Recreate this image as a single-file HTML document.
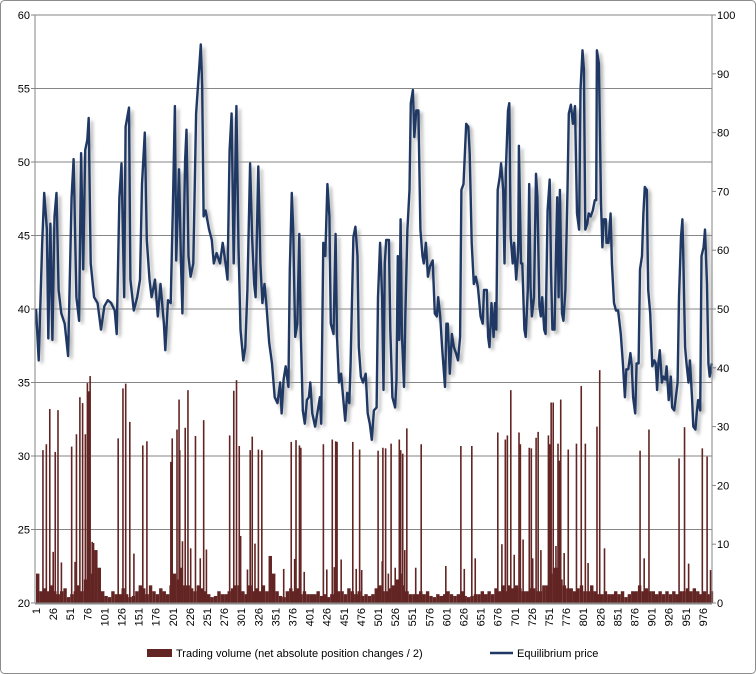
<!DOCTYPE html>
<html><head><meta charset="utf-8"><style>
body{margin:0;background:#fff;font-family:"Liberation Sans",sans-serif;}
#wrap{position:relative;width:756px;height:674px;overflow:hidden;}
svg text{font-family:"Liberation Sans",sans-serif;font-size:11px;fill:#000;}
</style></head><body>
<div id="wrap">
<svg id="chart" width="756" height="674">
<defs><filter id="sh" x="-5%" y="-5%" width="110%" height="110%"><feGaussianBlur stdDeviation="1.5"/></filter></defs>
<rect x="0.5" y="0.5" width="755" height="673" rx="4" fill="#fff" stroke="#8c8c8c"/>
<g id="grid"></g><g id="vol"></g><g id="price"></g><g id="axes"></g>
<g>
<rect x="147" y="649" width="25" height="8" fill="#632523"/>
<text x="176" y="657">Trading volume (net absolute position changes / 2)</text>
<line x1="490" y1="653" x2="513" y2="653" stroke="#1f3864" stroke-width="2.5"/>
<text x="517" y="657">Equilibrium price</text>
</g>
</svg></div>
<script>
const priceIdx=[1,5,10,13,17,19,22,25,28,31,34,38,43,48,53,56,60,64,67,70,73,76,78,81,86,91,96,101,106,111,116,119,123,126,130,132,137,139,144,149,153,156,160,163,167,170,175,179,183,188,190,194,198,201,204,206,210,213,215,219,221,224,227,231,235,238,242,244,246,249,254,258,261,265,270,274,278,281,284,287,290,294,297,300,304,307,310,314,317,320,322,326,329,332,335,338,342,346,350,354,358,360,363,366,370,372,375,377,380,383,386,388,391,394,397,400,402,405,409,413,416,418,421,424,427,430,432,436,439,441,444,447,450,453,456,459,461,465,468,471,473,476,479,483,486,489,492,495,499,501,504,507,509,511,513,517,519,522,526,528,530,532,534,536,539,541,544,547,549,552,554,557,560,563,566,568,571,574,577,581,584,587,589,592,595,599,601,603,606,609,612,615,618,621,623,626,630,633,635,638,641,644,647,651,654,656,660,662,664,667,670,672,674,676,679,681,684,686,688,691,693,695,698,700,703,706,707,710,712,715,717,720,722,724,726,729,732,734,737,739,741,744,746,749,752,754,756,759,761,763,765,767,770,772,775,778,780,783,786,789,792,795,797,800,802,804,807,809,812,815,818,820,821,824,827,829,831,834,835,838,841,843,846,849,852,856,859,862,864,867,870,872,874,877,879,882,884,887,889,891,894,896,899,902,905,907,909,911,913,916,918,921,923,926,929,931,934,936,939,941,944,946,947,950,952,955,957,960,962,965,967,969,972,974,977,979,982,984,986,989];
const priceVal=[40,36.5,44.5,47.9,45.4,38,45.8,37.9,46.3,47.9,41.3,39.7,39,36.8,47.6,50.2,40.8,39.2,50.6,42.7,50.8,51.5,53,43.1,40.8,40.4,38.6,40.2,40.6,40.4,39.9,38.3,47.6,49.9,40.8,52.4,53.7,42,39.9,40.8,42,48.5,52,44.7,42,40.8,42,39.5,41.7,39,37.2,40.6,40.4,46.7,53.8,43.3,49.5,43.1,39.7,50.1,52.2,43.6,42.2,43.1,53.3,55.3,58,55.1,46.3,46.7,45.4,44.7,43.1,43.8,43.1,44.5,43.1,42,50.8,53.3,43.1,53.8,44.2,38.6,36.5,37.4,41.3,49.9,44.9,41.7,40.8,49.7,43.1,40.4,41.7,40.2,37.7,36.3,34,33.6,35,32.9,35.2,36.1,34.7,42.7,47.9,45.4,38.1,39,45.1,38.6,33.1,32.2,33.8,34,35,32.9,32,33.1,34,32.2,44.5,43.6,48.5,46.3,39,38.3,45.1,38.1,35,35.6,34,32.4,34.3,33.6,36.3,44.9,45.6,43.6,37.4,35.4,35,35.6,32.9,32.2,31.1,33.1,33.3,40.8,44.5,40.8,34.5,43.1,44.7,44.7,38.6,34,33.3,35.2,43.6,37.9,46.1,38.3,34.7,39.7,45.4,48.1,54,54.9,51.7,53.5,53.5,45.4,43.6,43.1,44.5,42.2,42.9,43.3,39.7,39.5,40.8,39.5,37.2,34.7,39,39,35.6,38.3,37.4,37,36.5,38.1,48.1,48.5,52.6,52.4,50.6,44.5,41.7,42.2,41.5,39.5,39,41.3,41.3,38.1,37.4,40.4,38.1,40.4,38.6,48.1,49,49.9,48.1,43.1,49.5,53.5,54,44.9,43.1,44.5,42,44,51.1,43.1,43.1,38.6,38.1,41.3,48.5,41.5,39.5,40.8,49.2,47.6,40.2,39.5,40.8,38.6,38.3,46.7,48.8,42.4,38.6,38.6,43.1,47.6,40.8,48.1,39.7,39.2,41.3,48.1,53.3,53.9,52.6,53.8,46.5,45.4,54.9,57.6,56.3,45.4,45.8,46.5,46.3,46.7,47.4,47.4,57.6,56.7,47.2,44.2,46.1,46.1,44.5,44.5,46.5,43.1,40.4,39.9,39.9,38.3,36.3,34,35.9,35.9,37,36.1,34,32.9,36.3,36.3,42.7,43.6,46.5,48.3,48.1,41.3,39.7,36.1,36.5,36.3,34.5,36.3,37.2,35,35.4,35.2,36.1,33.8,35.4,33.3,33.1,33.8,35,40.8,44.9,46.1,44.2,37.4,36.3,35,36.5,34,32,31.8,32.9,33.8,33.1,43.6,44.2,45.4,41.7,36.3,35.4,36.3];
const spikeIdx=[11,16,21,26,29,33,38,53,58,60,65,69,73,76,78,80,83,85,121,128,132,138,144,157,163,198,200,207,210,211,215,219,223,227,234,241,246,250,284,290,294,298,300,310,314,317,321,326,331,363,374,379,381,386,388,393,421,426,434,437,439,441,447,464,469,474,477,501,507,508,512,516,520,526,532,534,537,540,543,556,564,600,622,627,638,643,676,682,687,690,695,700,707,709,713,722,725,727,732,735,739,750,752,754,757,761,764,766,768,773,779,791,798,804,808,821,825,832,884,890,897,941,949,955,975,982,987];
const spikeVal=[26,27,33,8.7,25.7,32.8,6.9,26.6,7,28.7,35,34,28.7,37.4,36,38.6,10.4,10.2,28,36.5,37.3,30.8,8.4,26.8,27.5,24,28,29.5,34.6,26,10.5,29.8,36.2,9.3,28.4,7.6,31.1,9.1,28.5,36.1,37.9,26.7,11.4,5.7,26,28.3,10.1,26.1,26,5.8,27.4,7.5,27.7,26.8,26.4,5.3,27,5.7,27.8,6.1,27.5,27.4,7.4,27.4,5.8,26.1,5.6,25.9,7.1,26.4,26.3,5,27.1,6,27.8,26,25.4,9,29.7,6,27,6.3,26.7,5.8,26.7,7.6,29,10,27.8,28.5,36.2,8.2,29,27,10.8,26.4,26.3,7.6,28.1,29.1,9,28.5,27,34.1,34.1,9.7,27.1,24.2,34.6,8.5,26.1,27.1,36.9,27.1,6.8,30,39.6,9.3,25.9,7.6,29.5,24.6,29.9,6.7,26.3,24.9,5.6];
const baseVal=[5,2,2.5,2,3,2,1.5,2,2.5,1, 1.5,2,3,2,4,3,5,9,6,2, 1.2,1,2,1.5,1.5,2.5,1.5,1,1.2,2, 3,2.5,1.5,3,2,1.5,2.5,2,1.5,3, 5,4,6,3,3,2.5,2,3,2.5,2, 1.5,1,1.2,2,1.5,1.5,2,2.5,3,3, 2,1.5,3,2,2.5,2,3,2,8,5, 2,1.2,1,2,2.5,2,2.5,1.5,2,1.5, 1.5,1.5,2,1.2,1.5,1,1.5,1.5,2,2, 1.5,2.5,2,1.5,2,1.2,1.5,1.2,1.5,2.5, 3,2,2,2.5,3,4,5,3,2,1.5, 1.5,1.5,2,1.5,2,1.2,1,1.5,1.2,1.5, 2,1.5,1.2,1.5,2,1.2,1,1.2,1.5,1.5, 2,1.5,2,1.5,2.5,2,3,2,3,2.5, 3,2.5,2,2,2.5,2.5,2,2,3,3, 5,6,6,4,3,2.5,2.5,2,2.5,3, 2,2,3,2,1.5,1.5,2,1.5,1.5,2, 1.5,2,1,1.5,2,2,3,2,2.5,2, 2,1.5,2,1.5,2,1.5,2,1.5,2,2, 2.5,2,2.5,2,1.5,2,1.5,2];
const leftTicks=[20,25,30,35,40,45,50,55,60];
const rightTicks=[0,10,20,30,40,50,60,70,80,90,100];
const xTicks=[];for(let i=1;i<=976;i+=25)xTicks.push(i);

const NS='http://www.w3.org/2000/svg';
const X0=36,DX=0.684,TOP=15,BOT=603;
const xS=i=>X0+(i-1)*DX;
const yL=v=>TOP+(60-v)*(BOT-TOP)/40;
const yR=v=>BOT-v*(BOT-TOP)/100;
function mk(tag,attrs,parent){const e=document.createElementNS(NS,tag);for(const k in attrs)e.setAttribute(k,attrs[k]);parent.appendChild(e);return e;}
const grid=document.getElementById('grid'),vol=document.getElementById('vol'),price=document.getElementById('price'),axes=document.getElementById('axes');
leftTicks.forEach(v=>{
 const l=mk('line',{x1:35,x2:712,y1:yL(v),y2:yL(v),stroke:'#868686','stroke-width':1},grid);
 
 
 const t=mk('text',{x:30,y:yL(v)+4,'text-anchor':'end'},axes);t.textContent=v;
 
 
 const tk=mk('line',{x1:31,x2:35,y1:yL(v),y2:yL(v),stroke:'#868686'},axes);
 
 
});
rightTicks.forEach(v=>{
 const t=mk('text',{x:717,y:yR(v)+4,'text-anchor':'start'},axes);t.textContent=v;
 
 
 const tk=mk('line',{x1:712,x2:716,y1:yR(v),y2:yR(v),stroke:'#868686'},axes);
 
 
});
const la=mk('line',{x1:35,x2:35,y1:TOP,y2:BOT,stroke:'#868686'},axes);


const ra=mk('line',{x1:712,x2:712,y1:TOP,y2:BOT,stroke:'#868686'},axes);


const ba=mk('line',{x1:35,x2:712,y1:BOT+0.5,y2:BOT+0.5,stroke:'#868686','stroke-width':2},axes);


xTicks.forEach(i=>{
 const x=xS(i);
 const t=mk('text',{x:0,y:0,transform:`translate(${x+4},608) rotate(-90)`,'text-anchor':'end'},axes);t.textContent=i;
 
 
});
baseVal.forEach((v,k)=>{
 const i=1+k*5;
 const r=mk('rect',{x:xS(i),y:yR(v),width:5*DX,height:BOT-yR(v),fill:'#632523'},vol);
 
 
});
spikeIdx.forEach((i,k)=>{
 const v=spikeVal[k];
 const r=mk('rect',{x:xS(i)-0.7,y:yR(v),width:1.6,height:BOT-yR(v),fill:'#632523'},vol);
 
 
});
const pts=priceIdx.map((i,k)=>xS(i).toFixed(1)+','+yL(priceVal[k]).toFixed(1)).join(' ');
const sh=mk('polyline',{points:pts,fill:'none',stroke:'#9a9a9a','stroke-width':2.5,transform:'translate(3,3)',filter:'url(#sh)',opacity:0.7},price);


const pl=mk('polyline',{points:pts,fill:'none',stroke:'#1f3864','stroke-width':2.4,'stroke-linejoin':'round'},price);


</script>
</body></html>
